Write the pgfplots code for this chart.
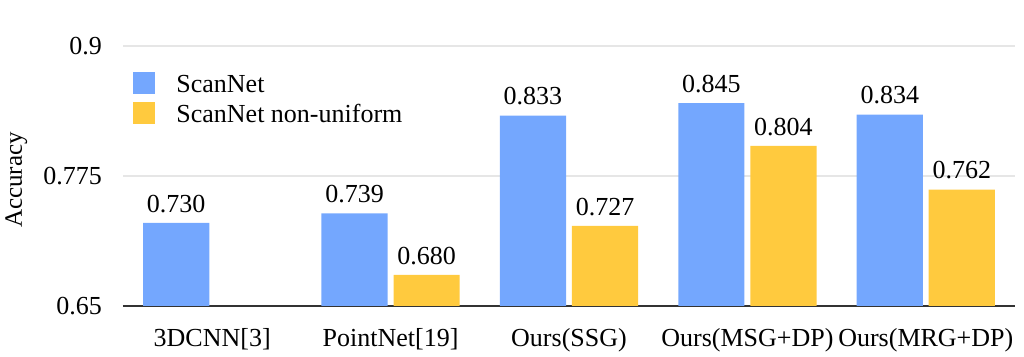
\documentclass[border=0pt]{standalone}
\usepackage{fontspec}
\setmainfont{Liberation Serif}
\usepackage{pgfplots}
\pgfplotsset{compat=1.18}
\definecolor{cblue}{HTML}{74A7FE}
\definecolor{cyel}{HTML}{FFCA3E}
\definecolor{cgrid}{HTML}{E6E6E6}
\begin{document}
\begin{tikzpicture}
\begin{axis}[
  name=ax,
  at={(0,0)}, anchor=south west,
  scale only axis,
  width=446pt, height=130pt,
  xmin=-0.5, xmax=4.5,
  ymin=0.65, ymax=0.9,
  ytick={0.65,0.775,0.9},
  yticklabels={0.65,0.775,0.9},
  xtick={0,1,2,3,4},
  xticklabels={3DCNN[3],PointNet[19],Ours(SSG),Ours(MSG+DP),Ours(MRG+DP)},
  /pgf/number format/assume math mode=true,
  ymajorgrids,
  grid style={cgrid, line width=0.6pt},
  axis x line*=bottom,
  axis y line*=left,
  y axis line style={draw=none},
  x axis line style={black!80, line width=0.6pt, -},
  major tick length=0pt,
  tick label style={font=\fontsize{13}{15}\selectfont},
  yticklabel style={xshift=-7pt},
  xticklabel style={yshift=-7.5pt},
  ylabel={Accuracy},
  ylabel style={font=\fontsize{12.5}{14}\selectfont, at={(axis description cs:0,0.5)}, anchor=base, inner sep=0pt, yshift=50.5pt, xshift=-2pt},
  ybar,
  bar width=0.371,
  nodes near coords,
  nodes near coords style={font=\fontsize{13}{15}\selectfont, /pgf/number format/.cd, fixed, fixed zerofill, precision=3, /tikz/.cd, inner sep=0pt, anchor=south, yshift=5pt},
  legend style={at={(axis description cs:0,1)}, anchor=north west, xshift=5pt, yshift=-14pt, draw=none, fill=none, font=\fontsize{13}{15}\selectfont, row sep=3.5pt, inner sep=0pt, nodes={inner sep=0pt, text height=9pt, text depth=2.5pt}},
  legend cell align=left,
  legend image code/.code={\fill[#1, overlay] (0pt,-4.3pt) rectangle (11pt,6.7pt);},
]
\addplot[draw=none, fill=cblue, bar shift=-0.202] coordinates {(0,0.730) (1,0.739) (2,0.833) (3,0.845) (4,0.834)};
\addplot[draw=none, fill=cyel, bar shift=0.202] coordinates {(1,0.680) (2,0.727) (3,0.804) (4,0.762)};
\legend{\hspace{21.5pt}ScanNet,\hspace{21.5pt}ScanNet non-uniform}
\end{axis}
\pgfresetboundingbox
\path[use as bounding box] ([xshift=-61.5pt,yshift=-25.5pt]ax.south west) rectangle ([xshift=4.5pt,yshift=23pt]ax.north east);
\end{tikzpicture}
\end{document}
